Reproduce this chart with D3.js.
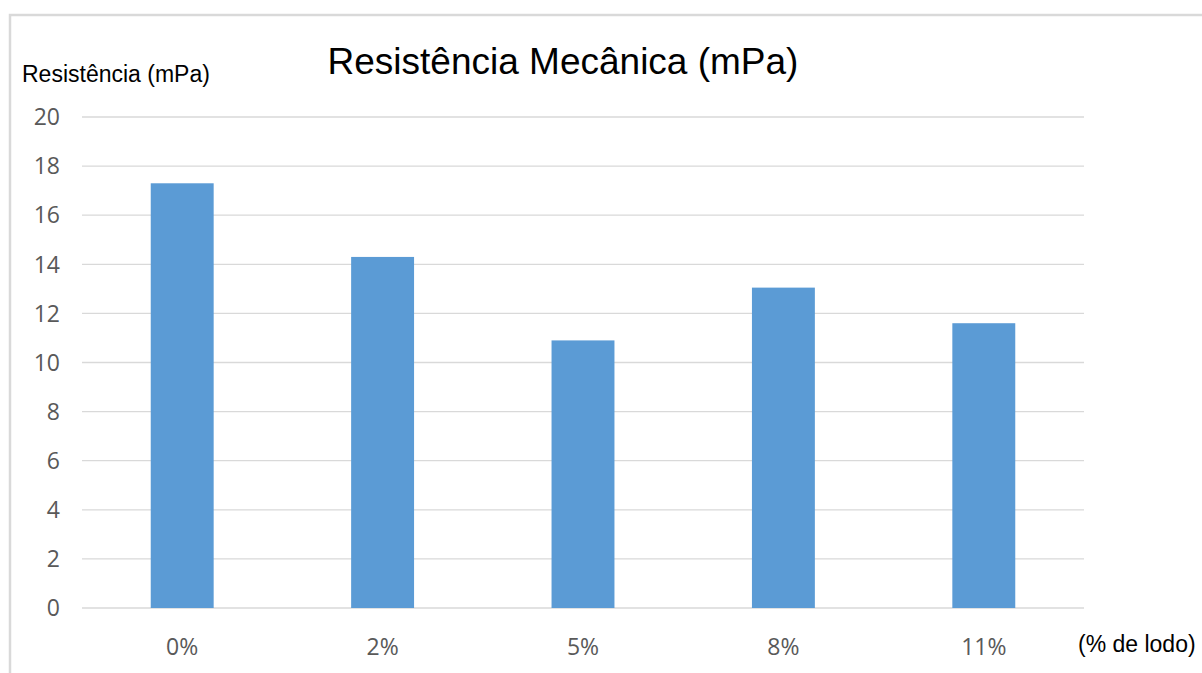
<!DOCTYPE html>
<html>
<head>
<meta charset="utf-8">
<script src="https://cdn.jsdelivr.net/npm/d3@7"></script>
<style>
  body { margin: 0; background: #fff; }
  svg { display: block; }
</style>
</head>
<body>
<svg id="chart"></svg>
<script>
const categories = ["0%", "2%", "5%", "8%", "11%"];
const values = [17.3, 14.3, 10.9, 13.05, 11.6];
const yTicks = [0, 2, 4, 6, 8, 10, 12, 14, 16, 18, 20];

const W = 1202, H = 673;
const margin = { top: 117, right: 118, bottom: 65, left: 82 };
const width = W - margin.left - margin.right;
const height = H - margin.top - margin.bottom;

const root = d3.select("#chart").attr("width", W).attr("height", H);

// outer chart border (runs off the right and bottom edges)
root.append("rect")
  .attr("x", 10).attr("y", 15)
  .attr("width", W + 20).attr("height", H + 20)
  .attr("fill", "none")
  .attr("stroke", "#d9d9d9")
  .attr("stroke-width", 2.5);

const svg = root.append("g")
  .attr("transform", `translate(${margin.left},${margin.top})`);

const x = d3.scaleBand()
  .domain(categories)
  .range([0, width])
  .paddingInner(0.686)
  .paddingOuter(0.343);

const y = d3.scaleLinear().domain([0, 20]).range([height, 0]);

// gridlines
svg.append("g")
  .selectAll("line")
  .data(yTicks)
  .join("line")
  .attr("x1", 0).attr("x2", width)
  .attr("y1", d => y(d)).attr("y2", d => y(d))
  .attr("stroke", "#d9d9d9")
  .attr("stroke-width", 1.3);

// y tick labels
svg.append("g")
  .selectAll("text")
  .data(yTicks)
  .join("text")
  .attr("x", -22)
  .attr("y", d => y(d))
  .attr("dy", "0.36em")
  .attr("text-anchor", "end")
  .attr("fill", "#595959")
  .style("font-family", "'Open Sans', sans-serif")
  .style("font-size", "23px")
  .text(d => d);

// bars
svg.append("g")
  .selectAll("rect")
  .data(values)
  .join("rect")
  .attr("x", (d, i) => x(categories[i]))
  .attr("y", d => y(d))
  .attr("width", x.bandwidth())
  .attr("height", d => height - y(d))
  .attr("fill", "#5b9bd5");

// x tick labels
svg.append("g")
  .selectAll("text")
  .data(categories)
  .join("text")
  .attr("x", d => x(d) + x.bandwidth() / 2)
  .attr("y", height + 47)
  .attr("text-anchor", "middle")
  .attr("fill", "#595959")
  .style("font-family", "'Open Sans', sans-serif")
  .style("font-size", "23px")
  .text(d => d);

// title
root.append("text")
  .attr("x", 563)
  .attr("y", 74)
  .attr("text-anchor", "middle")
  .style("font-family", "'Liberation Sans', Arial, sans-serif")
  .style("font-size", "37px")
  .attr("fill", "#000")
  .text("Resistência Mecânica (mPa)");

// axis titles
root.append("text")
  .attr("x", 22)
  .attr("y", 82)
  .style("font-family", "'Liberation Sans', Arial, sans-serif")
  .style("font-size", "23px")
  .attr("fill", "#000")
  .text("Resistência (mPa)");

root.append("text")
  .attr("x", 1078)
  .attr("y", 652)
  .style("font-family", "'Liberation Sans', Arial, sans-serif")
  .style("font-size", "23px")
  .attr("fill", "#000")
  .text("(% de lodo)");
</script>
</body>
</html>
